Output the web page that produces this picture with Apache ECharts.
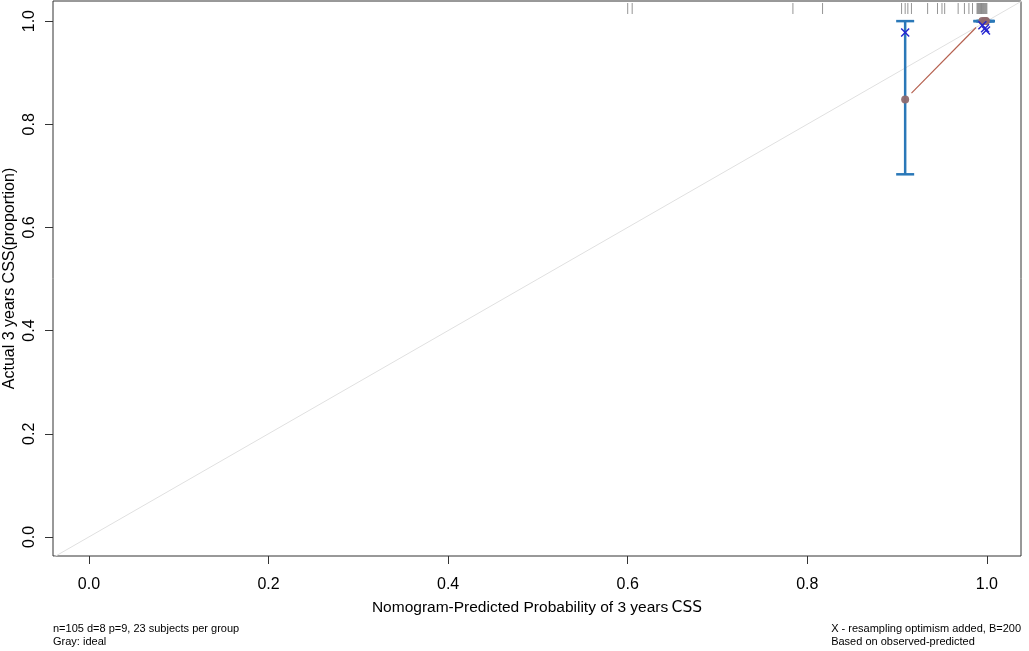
<!DOCTYPE html>
<html><head><meta charset="utf-8">
<script src="https://cdn.jsdelivr.net/npm/echarts@6/dist/echarts.min.js"></script>
<style>html,body{margin:0;padding:0;background:#fff}#c{width:1029px;height:651px}</style>
</head><body><div id="c"></div>
<script>
// ---- data ----
const xTicks = [0.0, 0.2, 0.4, 0.6, 0.8, 1.0];
const yTicks = [0.0, 0.2, 0.4, 0.6, 0.8, 1.0];
const predicted = [0.909, 0.995, 0.998, 0.999];      // mean predicted per group
const observed = [0.848, 1.0, 1.0, 1.0];             // apparent observed
const lower = [0.703, 1.0, 1.0, 1.0];                // error bar lower
const upper = [1.0, 1.0, 1.0, 1.0];                  // error bar upper
const corrected = [0.978, 0.992, 0.986, 0.982];      // optimism-corrected (X)
const ideal = [[-0.04, -0.04], [1.04, 1.04]];
const rugX = [0.600, 0.605, 0.784, 0.817, 0.905, 0.909, 0.912, 0.916, 0.934, 0.945, 0.950, 0.953,
  0.968, 0.975, 0.980, 0.984, 0.989, 0.990, 0.991, 0.992, 0.993, 0.994, 0.995, 0.996, 0.997, 0.998, 0.999, 1.0];
const xName = 'Nomogram-Predicted Probability of 3 years';
const xNameTail = 'CSS';
const yName = 'Actual 3 years CSS(proportion)';
const noteLeft = ['n=105 d=8 p=9, 23 subjects per group', 'Gray: ideal'];
const noteRight = ['X - resampling optimism added, B=200', 'Based on observed-predicted'];

const X_MIN = -0.04, X_MAX = 1.038, Y_MIN = -0.037, Y_MAX = 1.039;
const chart = echarts.init(document.getElementById('c'));
const FONT = 'Liberation Sans, Arial, sans-serif';
const pts = predicted.map((p, i) => [p, observed[i]]);

chart.setOption({
  animation: false,
  grid: { left: 53, right: 8, top: 1, bottom: 95, containLabel: false, outerBoundsMode: 'none',
    show: true, borderColor: '#333', borderWidth: 1, backgroundColor: 'transparent' },
  xAxis: {
    type: 'value', min: X_MIN, max: X_MAX,
    axisLine: { show: false, onZero: false },
    splitLine: { show: false },
    axisTick: { show: true, length: 8, customValues: xTicks, lineStyle: { color: '#333' } },
    axisLabel: { customValues: xTicks, formatter: v => v.toFixed(1), fontSize: 16, color: '#000', fontFamily: FONT, margin: 21 },
    name: '{a|' + xName + '} {b|' + xNameTail + '}', nameLocation: 'middle', nameGap: 44, nameMoveOverlap: false,
    nameTextStyle: { rich: { a: { fontSize: 15.5, fontFamily: FONT, color: '#000' }, b: { fontSize: 15.5, fontFamily: 'DejaVu Sans', color: '#000' } } }
  },
  yAxis: {
    type: 'value', min: Y_MIN, max: Y_MAX,
    axisLine: { show: false, onZero: false },
    splitLine: { show: false },
    axisTick: { show: true, length: 8, customValues: yTicks, lineStyle: { color: '#333' } },
    axisLabel: { customValues: yTicks, formatter: v => v.toFixed(1), fontSize: 16, color: '#000', fontFamily: FONT, rotate: 90, margin: 15 },
    name: yName, nameLocation: 'middle', nameGap: 35, nameMoveOverlap: false,
    nameTextStyle: { fontSize: 16, fontFamily: FONT, color: '#000' }
  },
  series: [
    { type: 'line', data: ideal, symbol: 'none', silent: true, clip: true, lineStyle: { color: '#e0e0e0', width: 1 }, z: 1 },
    { type: 'custom', data: rugX.map(x => [x]), silent: true, z: 2,
      renderItem: (params, api) => {
        const p = api.coord([api.value(0), Y_MAX]);
        return { type: 'line', shape: { x1: p[0], y1: p[1] + 2, x2: p[0], y2: p[1] + 13 }, style: { stroke: 'rgba(0,0,0,0.42)', lineWidth: 1 } };
      } },
    { type: 'custom', data: predicted.map((p, i) => [p, lower[i], upper[i]]), silent: true, z: 3,
      renderItem: (params, api) => {
        const lo = api.coord([api.value(0), api.value(1)]);
        const hi = api.coord([api.value(0), api.value(2)]);
        const st = { stroke: '#2a78b8', lineWidth: 2.5 };
        return { type: 'group', children: [
          { type: 'line', shape: { x1: lo[0], y1: lo[1], x2: hi[0], y2: hi[1] }, style: st },
          { type: 'line', shape: { x1: lo[0] - 9, y1: lo[1], x2: lo[0] + 9, y2: lo[1] }, style: st },
          { type: 'line', shape: { x1: hi[0] - 9, y1: hi[1], x2: hi[0] + 9, y2: hi[1] }, style: st }
        ] };
      } },
    { type: 'custom', data: pts.slice(0, -1).map((p, i) => [p[0], p[1], pts[i + 1][0], pts[i + 1][1]]), silent: true, z: 4,
      renderItem: (params, api) => {
        const a = api.coord([api.value(0), api.value(1)]);
        const b = api.coord([api.value(2), api.value(3)]);
        const dx = b[0] - a[0], dy = b[1] - a[1];
        const len = Math.sqrt(dx * dx + dy * dy);
        const g = 9;
        if (len <= 2 * g) return null;
        const ux = dx / len, uy = dy / len;
        return { type: 'line', shape: { x1: a[0] + ux * g, y1: a[1] + uy * g, x2: b[0] - ux * g, y2: b[1] - uy * g }, style: { stroke: '#b5604f', lineWidth: 1.2 } };
      } },
    { type: 'scatter', data: pts, symbol: 'circle', symbolSize: 8, silent: true, z: 5,
      itemStyle: { color: '#8f6a6e', opacity: 0.95 } },
    { type: 'custom', data: predicted.map((p, i) => [p, corrected[i]]), silent: true, z: 6,
      renderItem: (params, api) => {
        const c = api.coord([api.value(0), api.value(1)]);
        const r = 4;
        const st = { stroke: '#2424d0', lineWidth: 1.4 };
        return { type: 'group', children: [
          { type: 'line', shape: { x1: c[0] - r, y1: c[1] - r, x2: c[0] + r, y2: c[1] + r }, style: st },
          { type: 'line', shape: { x1: c[0] - r, y1: c[1] + r, x2: c[0] + r, y2: c[1] - r }, style: st }
        ] };
      } }
  ],
  graphic: [
    { type: 'text', left: 53, top: 622, style: { text: noteLeft.join('\n'), font: '11px ' + FONT, fill: '#000', lineHeight: 13 } },
    { type: 'text', right: 8, top: 622, style: { text: noteRight.join('\n'), font: '11px ' + FONT, fill: '#000', lineHeight: 13, align: 'right' } }
  ]
});
</script></body></html>
